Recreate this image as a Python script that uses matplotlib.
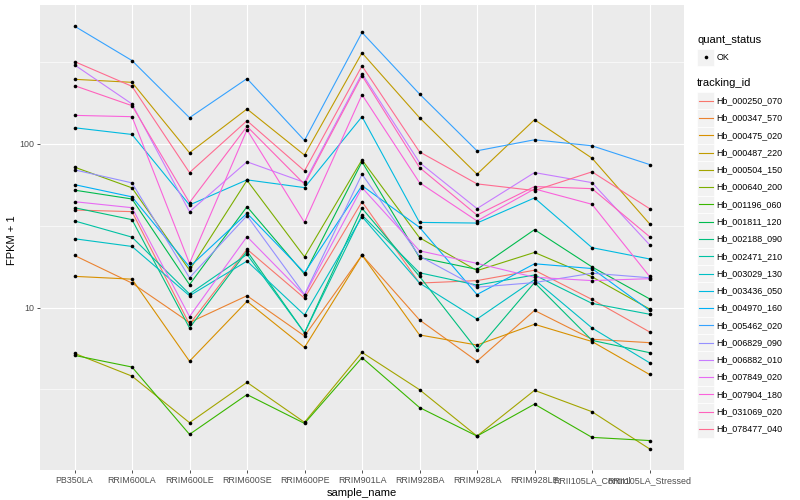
import numpy as np
import matplotlib
matplotlib.use('Agg')
import matplotlib.pyplot as plt
from matplotlib.patches import Rectangle
from matplotlib.ticker import FixedLocator, NullFormatter

plt.rcParams['font.family'] = ['Liberation Sans', 'DejaVu Sans']

# sample order on the x axis
samples = ['PB350LA', 'RRIM600LA', 'RRIM600LE', 'RRIM600SE', 'RRIM600PE', 'RRIM901LA',
           'RRIM928BA', 'RRIM928LA', 'RRIM928LE', 'RRII105LA_Control', 'RRII105LA_Stressed']

tracking_ids = ['Hb_000250_070', 'Hb_000347_570', 'Hb_000475_020', 'Hb_000487_220', 'Hb_000504_150',
                'Hb_000640_200', 'Hb_001196_060', 'Hb_001811_120', 'Hb_002188_090', 'Hb_002471_210',
                'Hb_003029_130', 'Hb_003436_050', 'Hb_004970_160', 'Hb_005462_020', 'Hb_006829_090',
                'Hb_006882_010', 'Hb_007849_020', 'Hb_007904_180', 'Hb_031069_020', 'Hb_078477_040']

# ggplot hue palette for 20 levels
colors = ['#F8766D', '#EA8331', '#D89000', '#C09B00', '#A3A500', '#7CAE00', '#39B600', '#00BB4E',
          '#00BF7D', '#00C1A3', '#00BFC4', '#00BAE0', '#00B0F6', '#35A2FF', '#9590FF', '#C77CFF',
          '#E76BF3', '#FA62DB', '#FF62BC', '#FF6C91']

# FPKM + 1 per sample
hb_000250_070 = [39.4, 38.5, 7.9, 22.7, 11.4, 44.3, 14.1, 14.6, 16.9, 11.2, 7.1]
hb_000347_570 = [20.8, 14.1, 8.1, 11.8, 6.7, 20.9, 8.4, 4.7, 9.6, 6.4, 6.1]
hb_000475_020 = [15.5, 14.9, 4.7, 10.9, 5.7, 20.9, 6.8, 5.9, 7.9, 6.2, 3.9]
hb_000487_220 = [247.6, 237.3, 88.1, 163.1, 85.3, 359.3, 144.3, 65.2, 140.3, 81.7, 32.5]
hb_000504_150 = [5.25, 3.81, 1.98, 3.49, 1.99, 5.32, 3.15, 1.64, 3.12, 2.31, 1.37]
hb_000640_200 = [72.0, 53.8, 16.9, 59.8, 20.4, 79.8, 26.7, 16.8, 21.7, 15.4, 9.8]
hb_001196_060 = [5.10, 4.33, 1.68, 2.94, 1.96, 4.94, 2.45, 1.64, 2.57, 1.61, 1.54]
hb_001811_120 = [52.1, 46.0, 13.8, 41.3, 16.0, 77.6, 20.2, 17.1, 29.9, 17.7, 11.3]
hb_002188_090 = [40.7, 34.4, 7.5, 22.1, 7.0, 40.4, 15.5, 5.5, 14.2, 6.3, 5.3]
hb_002471_210 = [33.8, 26.9, 12.1, 21.1, 7.0, 36.7, 16.3, 13.7, 15.8, 10.6, 9.1]
hb_003029_130 = [26.3, 23.6, 11.8, 19.2, 9.0, 35.9, 14.1, 8.5, 14.8, 7.5, 4.6]
hb_003436_050 = [125.3, 114.0, 42.3, 60.2, 54.0, 146.4, 33.1, 32.8, 46.7, 23.2, 19.8]
hb_004970_160 = [56.3, 47.4, 17.7, 37.6, 16.3, 55.5, 30.9, 12.0, 18.5, 17.3, 9.6]
hb_005462_020 = [523.0, 322.3, 144.3, 250.0, 104.8, 478.3, 201.5, 90.6, 105.8, 97.2, 74.7]
hb_006829_090 = [69.3, 57.7, 15.2, 36.4, 12.0, 65.2, 20.6, 13.3, 14.2, 16.2, 15.2]
hb_006882_010 = [303.3, 175.0, 38.5, 77.6, 58.1, 268.3, 76.8, 40.2, 66.7, 57.9, 24.2]
hb_007849_020 = [44.3, 40.7, 8.8, 27.1, 11.9, 54.0, 22.2, 18.6, 15.3, 14.6, 15.0]
hb_007904_180 = [149.1, 146.4, 18.6, 121.8, 33.1, 199.5, 57.9, 33.8, 53.0, 42.7, 15.5]
hb_031069_020 = [226.5, 170.9, 43.7, 127.6, 56.6, 260.8, 71.6, 36.7, 54.8, 53.2, 27.1]
hb_078477_040 = [317.8, 224.3, 66.7, 138.3, 68.3, 299.1, 89.3, 56.9, 51.8, 67.4, 40.2]

series = [hb_000250_070, hb_000347_570, hb_000475_020, hb_000487_220, hb_000504_150,
          hb_000640_200, hb_001196_060, hb_001811_120, hb_002188_090, hb_002471_210,
          hb_003029_130, hb_003436_050, hb_004970_160, hb_005462_020, hb_006829_090,
          hb_006882_010, hb_007849_020, hb_007904_180, hb_031069_020, hb_078477_040]

W, H = 800, 500
fig = plt.figure(figsize=(8, 5), dpi=100)
ax = fig.add_axes([40 / W, 30 / H, 644 / W, 465 / H])
ax.set_facecolor('#EBEBEB')
for s in ax.spines.values():
    s.set_visible(False)

x = np.arange(1, len(samples) + 1)
for vals, col in zip(series, colors):
    ax.plot(x, vals, color=col, lw=0.8, zorder=3)
for vals in series:
    ax.plot(x, vals, 'o', color='black', ms=2.6, mew=0, zorder=4)

ax.set_yscale('log')
allv = np.log10(np.concatenate([np.array(v) for v in series]))
lo, hi = allv.min(), allv.max()
pad = (hi - lo) * 0.05
ax.set_ylim(10 ** (lo - pad), 10 ** (hi + pad))
ax.set_xlim(0.4, len(samples) + 0.6)

ax.yaxis.set_major_locator(FixedLocator([10, 100]))
ax.yaxis.set_minor_locator(FixedLocator([10 ** 0.5, 10 ** 1.5, 10 ** 2.5]))
ax.yaxis.set_minor_formatter(NullFormatter())
ax.set_yticklabels(['10', '100'])
ax.set_xticks(x)
ax.set_xticklabels(samples)

ax.grid(True, which='major', color='white', lw=0.8)
ax.grid(True, which='minor', axis='y', color='white', lw=0.45)
ax.set_axisbelow(True)
ax.tick_params(which='major', length=2.2, width=0.6, color='#333333', labelcolor='#4D4D4D',
               labelsize=6.4, pad=2)
ax.tick_params(which='minor', length=0)

fig.text(12 / W, 1 - 240 / H, 'FPKM + 1', rotation=90, ha='center', va='center', fontsize=8)
fig.text(362 / W, 1 - 493 / H, 'sample_name', ha='center', va='center', fontsize=8)

# legend, drawn in pixel coordinates
lax = fig.add_axes([0, 0, 1, 1])
lax.set_xlim(0, W)
lax.set_ylim(H, 0)
lax.axis('off')
lax.patch.set_alpha(0)

lax.text(697, 40, 'quant_status', ha='left', va='center', fontsize=8)
lax.add_patch(Rectangle((697, 48.5), 17, 17, facecolor='#F2F2F2', edgecolor='white', lw=0.5))
lax.plot([705.5], [57], 'o', color='black', ms=2.6, mew=0)
lax.text(716.5, 57, 'OK', ha='left', va='center', fontsize=6.4)

lax.text(697, 83.5, 'tracking_id', ha='left', va='center', fontsize=8)
for i, (name, col) in enumerate(zip(tracking_ids, colors)):
    yc = 100.7 + i * 17.28
    lax.add_patch(Rectangle((697, yc - 8.6), 17, 17.2, facecolor='#F2F2F2', edgecolor='white', lw=0.5))
    lax.plot([698.5, 712.5], [yc, yc], color=col, lw=0.8)
    lax.text(716.5, yc, name, ha='left', va='center', fontsize=6.4)

fig.savefig('out.png', dpi=100)
